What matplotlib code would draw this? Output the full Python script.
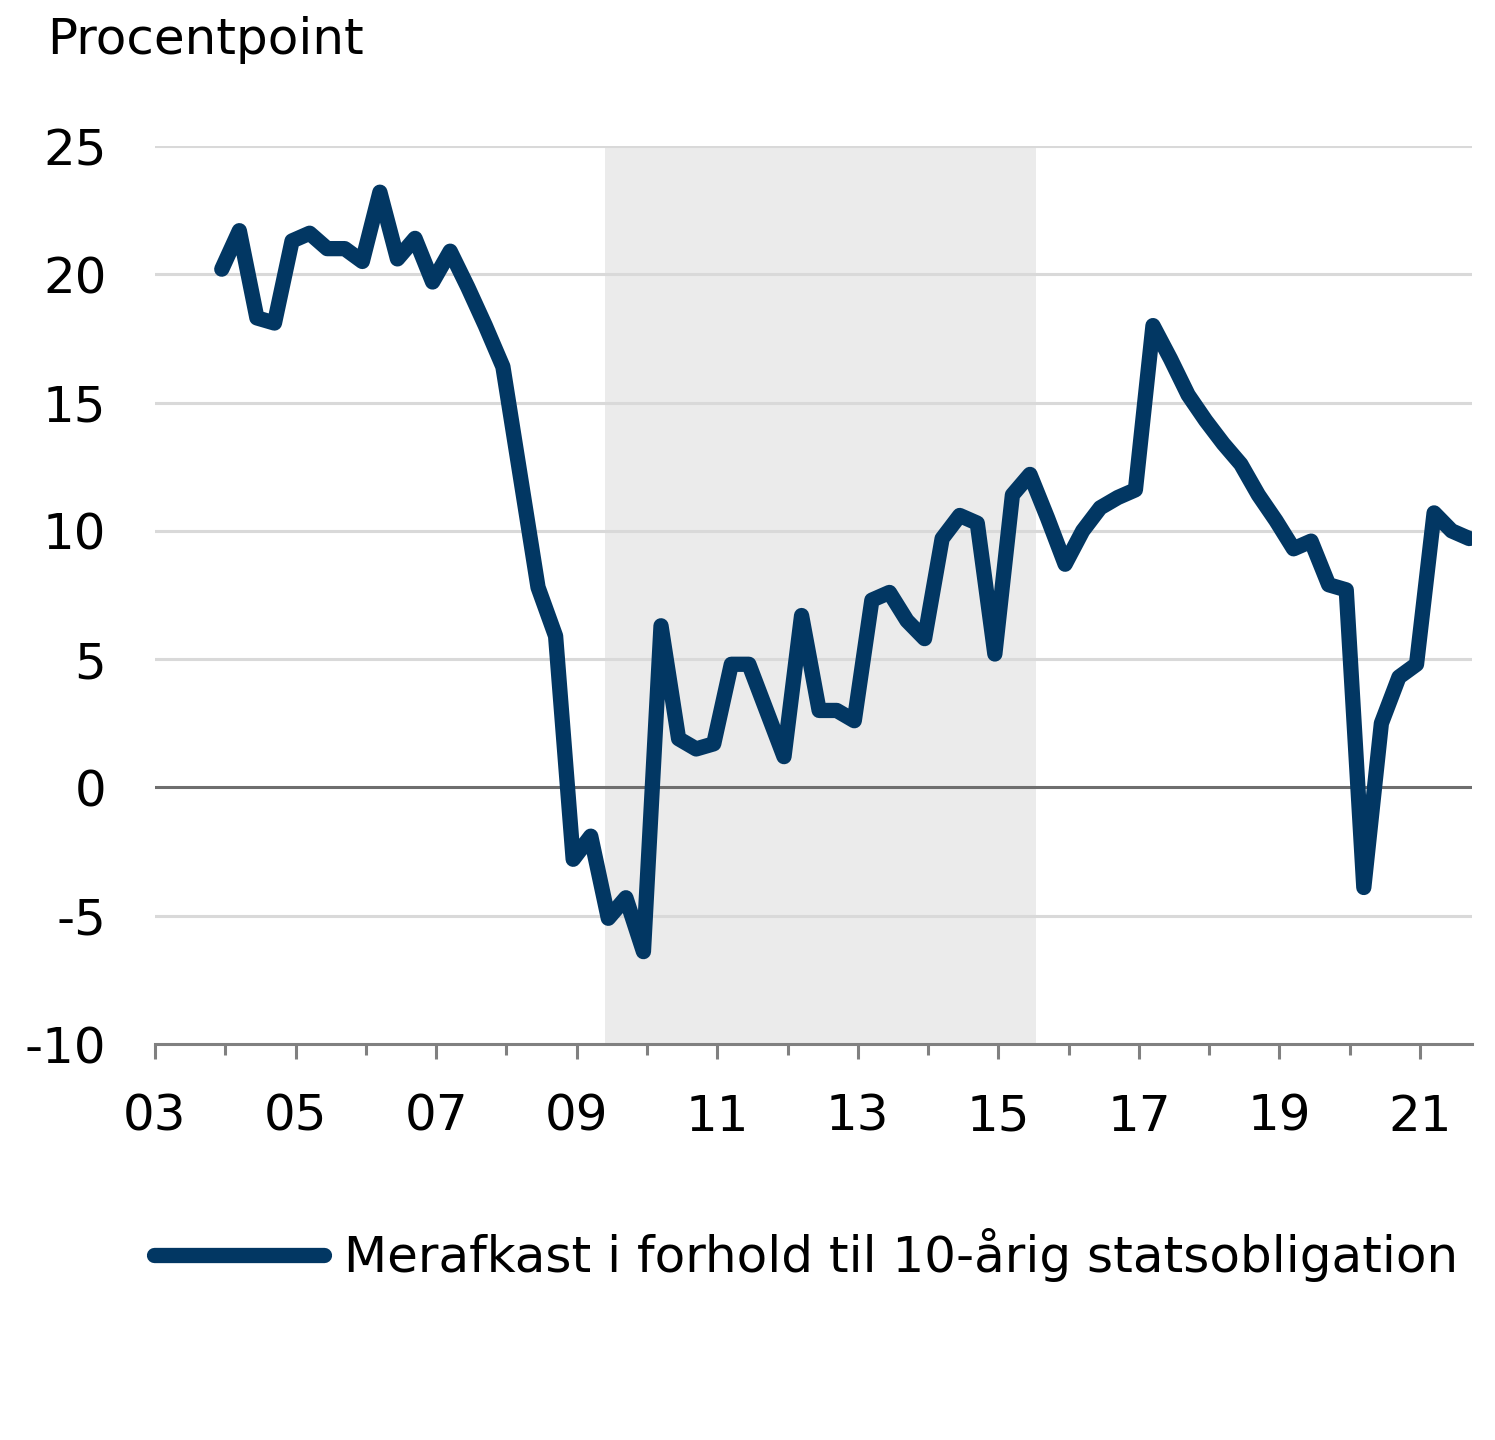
import numpy as np
import matplotlib
matplotlib.use('Agg')
from matplotlib import pyplot as plt
from matplotlib.ticker import FixedLocator

plt.rcParams['font.family'] = ['DejaVu Sans']

# quarterly observations, 2003Q4 - 2021Q3
excessReturn = [
   20.2, 21.7, 18.3, 18.1, 21.3, 21.6, 21.0, 21.0, 20.5, 23.2, 20.6, 21.4,
   19.7, 20.9, 19.5, 18.0, 16.4, 12.1, 7.8, 5.9, -2.8, -1.9, -5.1, -4.3,
   -6.4, 6.3, 1.9, 1.5, 1.7, 4.8, 4.8, 3.0, 1.2, 6.7, 3.0, 3.0,
   2.6, 7.3, 7.6, 6.5, 5.8, 9.7, 10.6, 10.3, 5.2, 11.4, 12.2, 10.5,
   8.7, 10.0, 10.9, 11.3, 11.6, 18.0, 16.7, 15.3, 14.3, 13.4, 12.6, 11.4,
   10.4, 9.3, 9.6, 7.9, 7.7, -3.9, 2.5, 4.3, 4.8, 10.7, 10.0, 9.7,
]
quarters = 2003.95 + 0.25 * np.arange(len(excessReturn))
shadedPeriod = (2009.40, 2015.54)
yearLabels = ['03', '05', '07', '09', '11', '13', '15', '17', '19', '21']
yTicks = [-10, -5, 0, 5, 10, 15, 20, 25]

navy = '#023763'
fontSize = 36

fig = plt.figure(figsize=(14.95, 14.4), dpi=100)
ax = fig.add_axes([155 / 1495, 1 - 1044 / 1440, (1472 - 155) / 1495, (1044 - 146) / 1440])

ax.axvspan(shadedPeriod[0], shadedPeriod[1], color='#ebebeb', lw=0, zorder=0)
for y in yTicks[1:]:
   if y == 0:
      ax.axhline(y, color='#6e6e6e', lw=2.2, zorder=1)
   else:
      ax.axhline(y, color='#d9d9d9', lw=2.2, zorder=1)

line, = ax.plot(quarters, excessReturn, color=navy, lw=11, solid_joinstyle='round',
                solid_capstyle='round', zorder=3)

ax.set_xlim(2003, 2003 + (1472 - 155) / 70.28)
ax.set_ylim(-10, 25)

ax.xaxis.set_major_locator(FixedLocator(np.arange(2003, 2022, 2)))
ax.xaxis.set_minor_locator(FixedLocator(np.arange(2004, 2022, 2)))
ax.set_xticklabels(yearLabels, fontsize=fontSize)
ax.set_yticks(yTicks)
ax.set_yticklabels([str(v) for v in yTicks], fontsize=fontSize)

ax.tick_params(axis='x', which='major', length=11, width=2.2, color='#808080', pad=24)
ax.tick_params(axis='x', which='minor', length=8, width=2.2, color='#808080')
ax.tick_params(axis='y', length=0, pad=35)

for side in ['left', 'right', 'top']:
   ax.spines[side].set_visible(False)
ax.spines['bottom'].set_color('#808080')
ax.spines['bottom'].set_linewidth(2.2)
ax.spines['bottom'].set_zorder(4)

fig.text(47 / 1495, 1 - 40 / 1440, 'Procentpoint', fontsize=fontSize, va='center', ha='left')

fig.legend([line], ['Merafkast i forhold til 10-årig statsobligation'],
           loc='center', bbox_to_anchor=((155 + 1457) / 2 / 1495, 1 - 1255 / 1440),
           frameon=False, fontsize=fontSize, handlelength=3.4, handletextpad=0.4)

fig.savefig('out.png', dpi=100)
